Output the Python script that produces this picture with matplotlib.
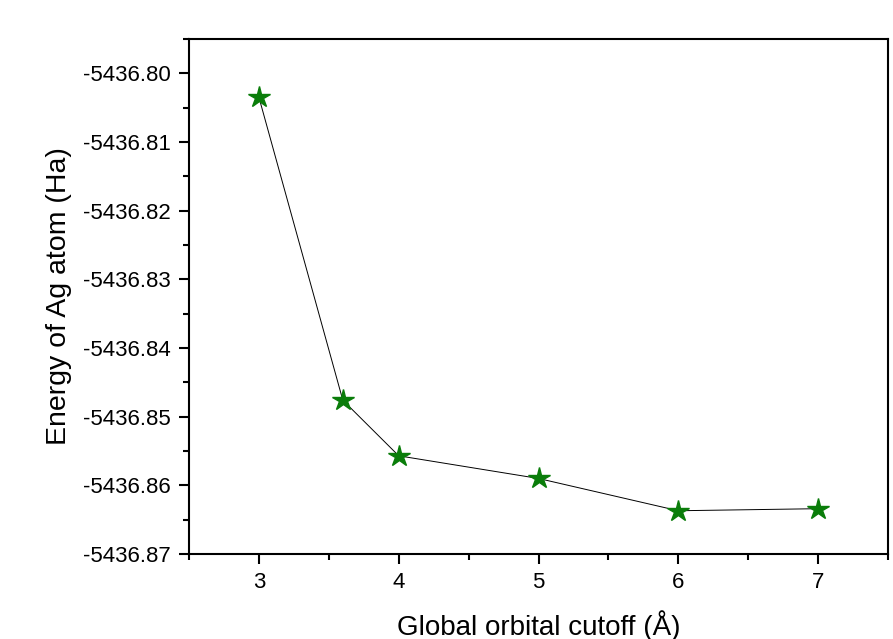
import matplotlib
matplotlib.use('Agg')
import matplotlib.pyplot as plt
from matplotlib.ticker import MultipleLocator, FormatStrFormatter

plt.rcParams['font.family'] = ['Liberation Sans', 'DejaVu Sans']

cutoff = [3, 3.6, 4, 5, 6, 7]
energy = [-5436.8035, -5436.8476, -5436.8557, -5436.8590, -5436.8637, -5436.8634]

fig = plt.figure(figsize=(8.93, 6.39), dpi=100)
ax = fig.add_axes([0.2117, 0.133, 0.7827, 0.806])

ax.plot(cutoff, energy, color='black', lw=0.7, zorder=1)
ax.plot(cutoff, energy, ls='none', marker='*', markersize=16,
        color='#0a7d0a', markeredgecolor='#0a7d0a', zorder=2)

ax.set_xlim(2.5, 7.5)
ax.set_ylim(-5436.87, -5436.795)
ax.xaxis.set_major_locator(MultipleLocator(1))
ax.xaxis.set_minor_locator(MultipleLocator(0.5))
ax.yaxis.set_major_locator(MultipleLocator(0.01))
ax.yaxis.set_minor_locator(MultipleLocator(0.005))
ax.yaxis.set_major_formatter(FormatStrFormatter('%.2f'))

ax.tick_params(which='major', direction='out', length=7, width=1.5, labelsize=16, pad=6)
ax.tick_params(which='minor', direction='out', length=4.5, width=1.5)
for s in ax.spines.values():
    s.set_linewidth(1.5)

ax.set_xlabel('Global orbital cutoff (Å)', fontsize=20, labelpad=12)
ax.set_ylabel('Energy of Ag atom (Ha)', fontsize=20.5, labelpad=8)

fig.savefig('out.png', dpi=100)
